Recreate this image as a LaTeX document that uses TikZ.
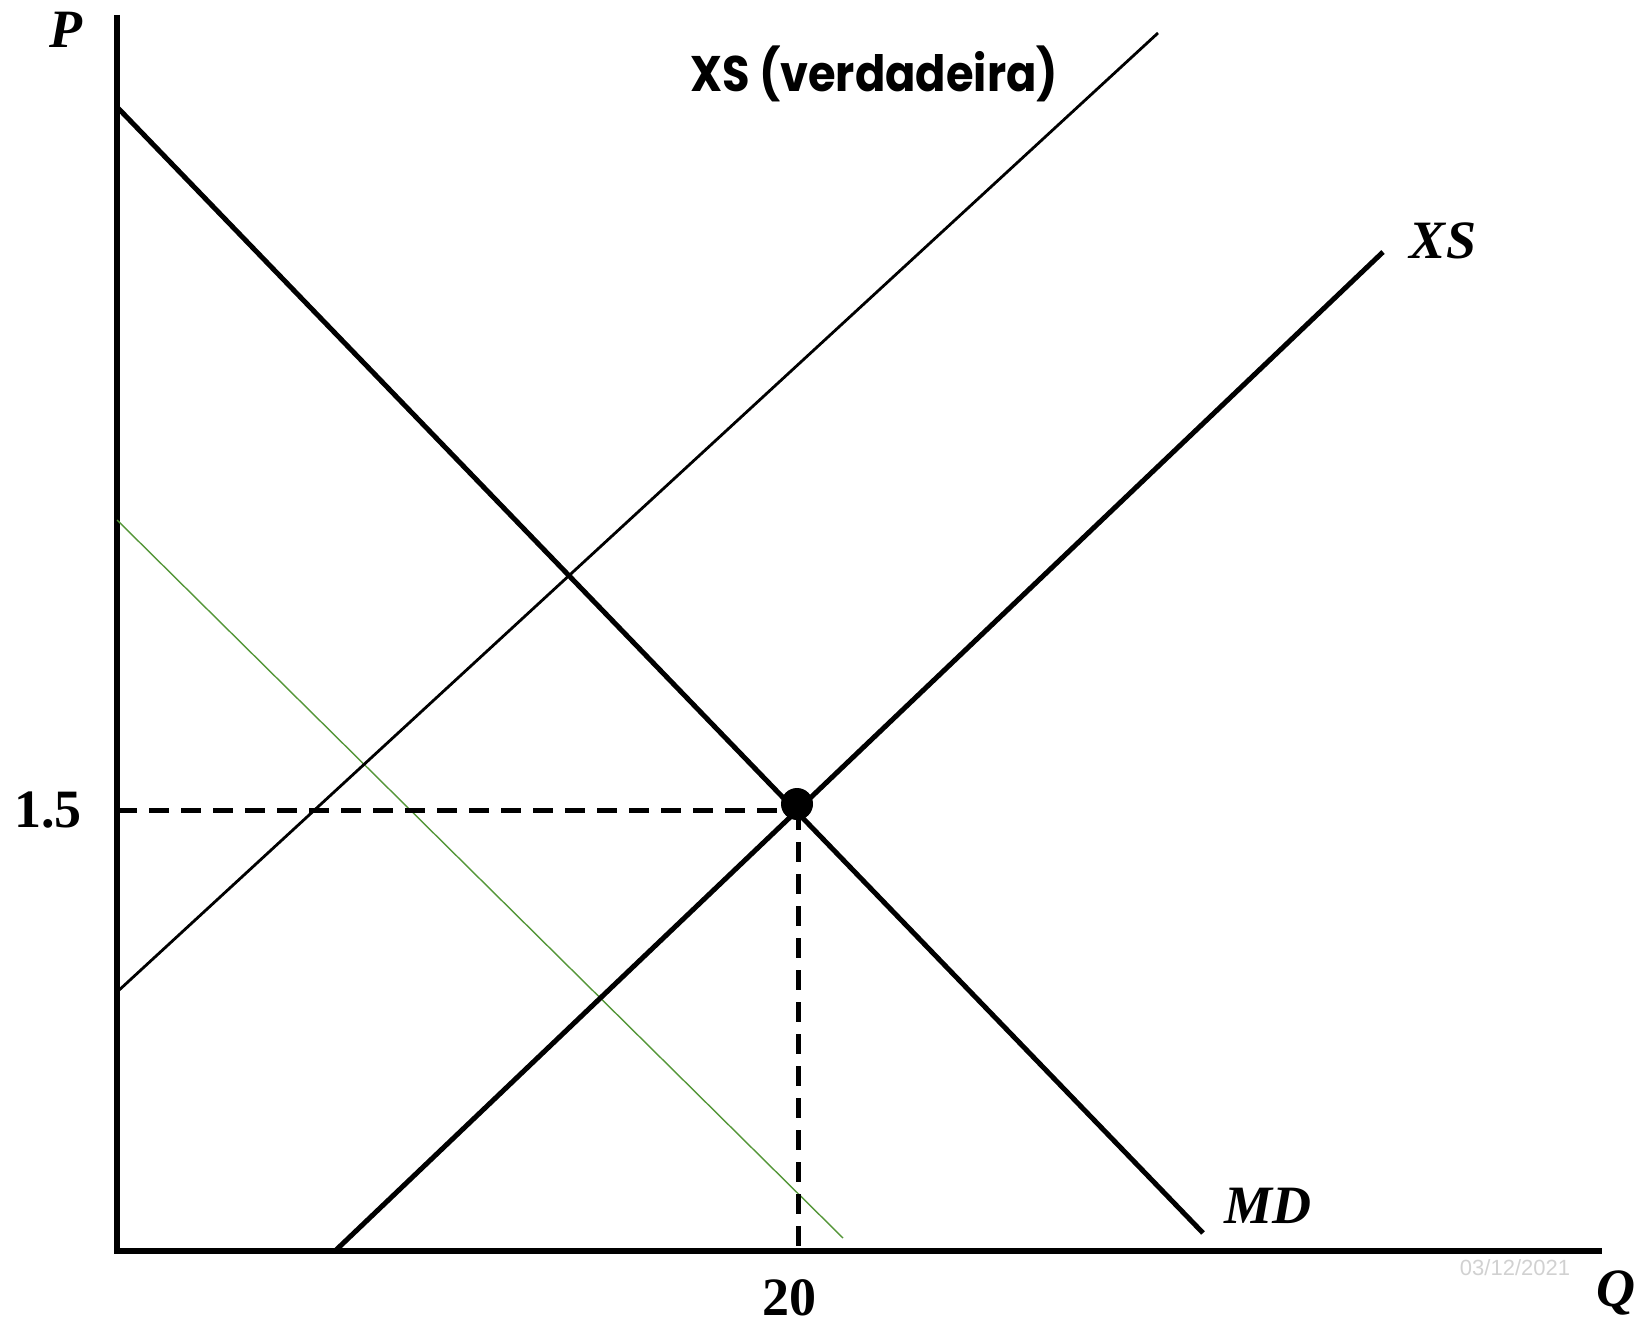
\documentclass[tikz,border=0pt]{standalone}
\usepackage{fontspec}
\setmainfont{Liberation Serif}
\newfontfamily\geofont{Poppins}
\newfontfamily\wmfont{Liberation Sans}
\definecolor{grn}{RGB}{84,150,56}
\begin{document}
\begin{tikzpicture}[x=1pt,y=-1pt,
  axisline/.style={line width=6.5pt},
  curveline/.style={line width=5pt},
  thinline/.style={line width=2.8pt},
  greenline/.style={line width=1.4pt, draw=grn},
  guide/.style={line width=5pt, dash pattern=on 20pt off 12pt},
  lbl/.style={inner sep=0pt, font=\fontsize{54}{54}\selectfont\bfseries\itshape},
  num/.style={inner sep=0pt, font=\fontsize{54}{54}\selectfont\bfseries}]
\useasboundingbox (0,0) rectangle (1634,1324);
% axes
\coordinate (O) at (117,1251);
\coordinate (Ytop) at (117,15);
\coordinate (Xend) at (1602,1251);
\draw[axisline] (Ytop) -- (O) -- (Xend);
% curves
\coordinate (MDa) at (117,107);
\coordinate (MDb) at (1203,1233);
\coordinate (XSa) at (335,1251);
\coordinate (XSb) at (1383,252);
\coordinate (XVa) at (117,992);
\coordinate (XVb) at (1158,33);
\coordinate (Ga) at (117,520);
\coordinate (Gb) at (843,1238);
\draw[greenline] (Ga) -- (Gb);
\draw[thinline] (XVa) -- (XVb);
% guides
\coordinate (Py) at (117,810);
\coordinate (Qx) at (798,1251);
\node[circle, fill=black, inner sep=0pt, minimum size=32pt] (E) at (797,804) {};
\draw[guide] (Py) -- (798,810) coordinate (Ec);
\draw[guide] (Ec) -- (Qx);
\draw[curveline] (MDa) -- (MDb);
\draw[curveline] (XSa) -- (XSb);
% labels
\node[lbl] (P) at (66,30) {P};
\node[lbl, anchor=base west] (Q) at (1596,1306) {Q};
\node[num] (p15) at (48,810) {1.5};
\node[num] (q20) at (789,1298) {20};
\node[lbl] (XSl) at (1443,241) {XS};
\node[lbl] (MDl) at (1268,1206) {MD};
\node[inner sep=0pt, anchor=base, xscale=0.895, transform shape, font=\geofont\fontsize{50}{50}\selectfont\bfseries] (XVl) at (874,92) {XS (verdadeira)};
\node[inner sep=0pt, text=black!18, font=\wmfont\fontsize{22}{22}\selectfont] (wm) at (1515,1268) {03/12/2021};
\end{tikzpicture}
\end{document}
